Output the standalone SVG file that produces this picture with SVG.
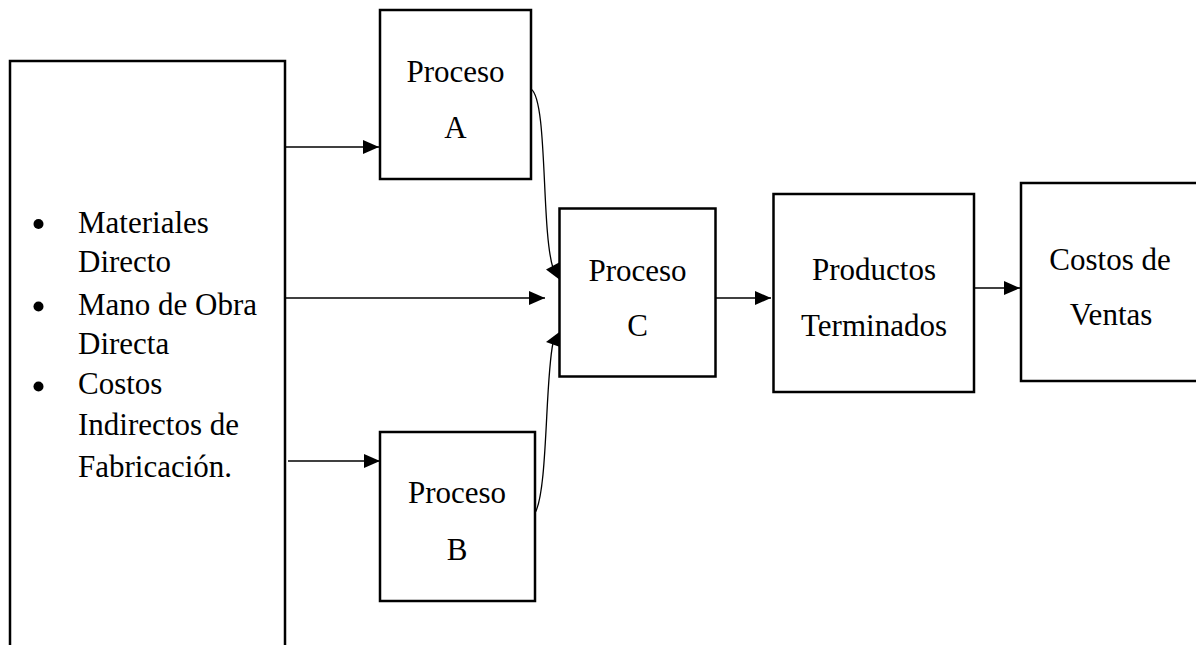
<svg xmlns="http://www.w3.org/2000/svg" width="1196" height="645" viewBox="0 0 1196 645">
<style>
.box{fill:#fff;stroke:#000;stroke-width:2.5}
.t{font-family:"Liberation Serif","Times New Roman",serif;font-size:31px;fill:#000}
.c{text-anchor:middle}
.ln{fill:none;stroke:#000;stroke-width:1.3}
.ah{fill:#000;stroke:none}
</style>
<defs>
<marker id="arr" markerWidth="16" markerHeight="14" refX="16" refY="7" orient="auto" markerUnits="userSpaceOnUse">
<path d="M0,0 L16,7 L0,14 Z" fill="#000"/>
</marker>
</defs>
<rect width="1196" height="645" fill="#fff"/>
<g id="connectors">
<line class="ln" x1="285" y1="147" x2="379" y2="147" marker-end="url(#arr)"/>
<line class="ln" x1="282" y1="298" x2="545" y2="298" marker-end="url(#arr)"/>
<line class="ln" x1="288" y1="461" x2="380" y2="461" marker-end="url(#arr)"/>
<path class="ln" d="M531,89 C548,100 541,230 553,268"/>
<polygon class="ah" points="546,269.5 560,262 560,280"/>
<path class="ln" d="M535,513 C548,490 545,380 553,343"/>
<polygon class="ah" points="546,342 560,331.5 560,347"/>
<line class="ln" x1="715" y1="298" x2="771" y2="298" marker-end="url(#arr)"/>
<line class="ln" x1="974" y1="288" x2="1020" y2="288" marker-end="url(#arr)"/>
</g>
<g id="inputs">
<rect class="box" x="10" y="61" width="275" height="600"/>
<circle cx="38.5" cy="224" r="5"/>
<circle cx="38.5" cy="306.5" r="5"/>
<circle cx="38.5" cy="386.5" r="5"/>
<text class="t" x="78" y="233">Materiales</text>
<text class="t" x="78" y="272">Directo</text>
<text class="t" x="78" y="315">Mano de Obra</text>
<text class="t" x="78" y="354">Directa</text>
<text class="t" x="78" y="394">Costos</text>
<text class="t" x="78" y="435">Indirectos de</text>
<text class="t" x="78" y="477">Fabricación.</text>
</g>
<g id="procesoA">
<rect class="box" x="380" y="10" width="151" height="169"/>
<text class="t c" x="455.5" y="82">Proceso</text>
<text class="t c" x="455.5" y="138">A</text>
</g>
<g id="procesoB">
<rect class="box" x="380" y="432" width="155" height="169"/>
<text class="t c" x="457" y="503">Proceso</text>
<text class="t c" x="457" y="560">B</text>
</g>
<g id="procesoC">
<rect class="box" x="559.5" y="208.5" width="156" height="168"/>
<text class="t c" x="637.5" y="281">Proceso</text>
<text class="t c" x="637.5" y="336">C</text>
</g>
<g id="productos">
<rect class="box" x="773.5" y="194" width="200.5" height="198"/>
<text class="t c" x="874" y="280">Productos</text>
<text class="t c" x="874" y="336">Terminados</text>
</g>
<g id="ventas">
<rect class="box" x="1021" y="183" width="180" height="198"/>
<text class="t c" x="1110" y="270">Costos de</text>
<text class="t c" x="1111" y="325">Ventas</text>
</g>
</svg>
